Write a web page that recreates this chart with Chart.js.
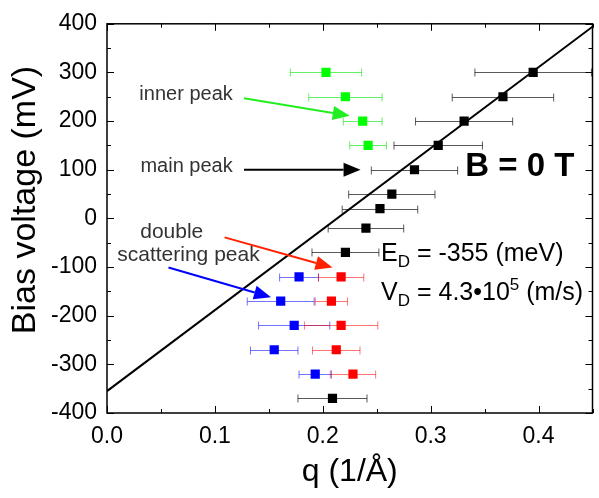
<!DOCTYPE html>
<html>
<head>
<meta charset="utf-8">
<script src="https://cdn.jsdelivr.net/npm/chart.js@4.4.1/dist/chart.umd.min.js"></script>
<style>
  html, body { margin: 0; padding: 0; background: #fff; }
  #wrap { width: 599px; height: 498px; position: relative; }
</style>
</head>
<body>
<div id="wrap"><canvas id="chart"></canvas></div>
<script>
// main peak (black)
const mainV = [300, 250, 200, 150, 100, 50, 20, -20, -70, -370];
const mainQ = [0.395, 0.367, 0.331, 0.307, 0.285, 0.264, 0.253, 0.240, 0.221, 0.209];
const mainErr = [0.054, 0.047, 0.045, 0.041, 0.040, 0.040, 0.035, 0.035, 0.031, 0.032];

// inner peak (green)
const innerV = [300, 250, 200, 150];
const innerQ = [0.203, 0.221, 0.237, 0.242];
const innerErr = [0.033, 0.034, 0.018, 0.017];

// double scattering peak (blue + red)
const doubleV = [-120, -170, -220, -270, -320];
const blueQ = [0.178, 0.161, 0.1735, 0.155, 0.193];
const blueErr = [0.018, 0.031, 0.033, 0.022, 0.015];
const redQ = [0.217, 0.208, 0.217, 0.2125, 0.228];
const redErr = [0.021, 0.015, 0.034, 0.022, 0.021];

// linear fit E = E_D + slope * q
const fitQ = [0, 0.45];
const fitV = [-355, 394];

const xTicks = [0.0, 0.1, 0.2, 0.3, 0.4];
const yTicks = [-400, -300, -200, -100, 0, 100, 200, 300, 400];

function pts(qs, vs) {
  return qs.map((q, i) => ({ x: q, y: vs[i] }));
}

const FONT = "'Liberation Sans', Arial, sans-serif";

// arrows and texts, positioned in data coordinates
const arrows = [
  { from: [0.127, 247], to: [0.225, 211], color: '#22ee22' },
  { from: [0.127, 100], to: [0.235, 100], color: '#000000' },
  { from: [0.109, -39], to: [0.209, -101], color: '#ff2200' },
  { from: [0.057, -101], to: [0.152, -162], color: '#0000ff' }
];
const notes = [
  { text: 'inner peak', q: 0.030, v: 244, size: 20, align: 'left' },
  { text: 'main peak', q: 0.031, v: 96, size: 20, align: 'left' },
  { text: 'double', q: 0.060, v: -40, size: 21, align: 'center' },
  { text: 'scattering peak', q: 0.0755, v: -87, size: 21, align: 'center' }
];

const frameAndExtras = {
  id: 'frameAndExtras',
  beforeDatasetsDraw(chart) {
    const ctx = chart.ctx;
    const xs = chart.scales.x, ys = chart.scales.y;
    const a = chart.chartArea;
    ctx.save();
    ctx.beginPath();
    ctx.rect(a.left, a.top, a.right - a.left, a.bottom - a.top);
    ctx.clip();
    // error bars
    chart.data.datasets.forEach((ds, di) => {
      if (!ds.xErr || !chart.isDatasetVisible(di)) return;
      ctx.strokeStyle = ds.errColor;
      ctx.lineWidth = 1;
      ds.data.forEach((p, i) => {
        const y = Math.round(ys.getPixelForValue(p.y)) + 0.5;
        const x1 = xs.getPixelForValue(p.x - ds.xErr[i]);
        const x2 = xs.getPixelForValue(p.x + ds.xErr[i]);
        ctx.beginPath();
        ctx.moveTo(x1, y); ctx.lineTo(x2, y);
        ctx.moveTo(x1, y - 4); ctx.lineTo(x1, y + 4);
        ctx.moveTo(x2, y - 4); ctx.lineTo(x2, y + 4);
        ctx.stroke();
      });
    });
    ctx.restore();
  },
  afterDatasetsDraw(chart) {
    const ctx = chart.ctx;
    const xs = chart.scales.x, ys = chart.scales.y;
    const a = chart.chartArea;
    ctx.save();
    // frame
    ctx.strokeStyle = '#000';
    ctx.lineWidth = 1.5;
    ctx.strokeRect(a.left, a.top, a.right - a.left, a.bottom - a.top);
    // inward ticks on all four sides
    ctx.lineWidth = 1;
    for (let q = 0; q <= 0.45 + 1e-9; q += 0.05) {
      const x = Math.round(xs.getPixelForValue(q)) + 0.5;
      const len = Math.abs(q * 10 - Math.round(q * 10)) < 1e-6 ? 7 : 4;
      ctx.beginPath();
      ctx.moveTo(x, a.bottom); ctx.lineTo(x, a.bottom - len);
      ctx.moveTo(x, a.top); ctx.lineTo(x, a.top + len);
      ctx.stroke();
    }
    for (let v = -400; v <= 400; v += 50) {
      const y = Math.round(ys.getPixelForValue(v)) + 0.5;
      const len = v % 100 === 0 ? 7 : 4;
      ctx.beginPath();
      ctx.moveTo(a.left, y); ctx.lineTo(a.left + len, y);
      ctx.moveTo(a.right, y); ctx.lineTo(a.right - len, y);
      ctx.stroke();
    }
    // arrows
    arrows.forEach(ar => {
      const x1 = xs.getPixelForValue(ar.from[0]), y1 = ys.getPixelForValue(ar.from[1]);
      const x2 = xs.getPixelForValue(ar.to[0]), y2 = ys.getPixelForValue(ar.to[1]);
      const ang = Math.atan2(y2 - y1, x2 - x1);
      const hl = 17, hw = 7;
      const bx = x2 - hl * Math.cos(ang), by = y2 - hl * Math.sin(ang);
      ctx.strokeStyle = ar.color;
      ctx.fillStyle = ar.color;
      ctx.lineWidth = 2;
      ctx.beginPath();
      ctx.moveTo(x1, y1); ctx.lineTo(bx, by);
      ctx.stroke();
      ctx.beginPath();
      ctx.moveTo(x2, y2);
      ctx.lineTo(bx + hw * Math.sin(ang), by - hw * Math.cos(ang));
      ctx.lineTo(bx - hw * Math.sin(ang), by + hw * Math.cos(ang));
      ctx.closePath();
      ctx.fill();
    });
    // labels
    ctx.fillStyle = '#333';
    ctx.textBaseline = 'alphabetic';
    notes.forEach(n => {
      ctx.font = n.size + 'px ' + FONT;
      ctx.textAlign = n.align;
      ctx.fillText(n.text, xs.getPixelForValue(n.q), ys.getPixelForValue(n.v));
    });
    ctx.fillStyle = '#000';
    ctx.textAlign = 'left';
    ctx.font = 'bold 33px ' + FONT;
    ctx.fillText('B = 0 T', xs.getPixelForValue(0.332), ys.getPixelForValue(88));

    // E_D and V_D with sub/superscripts
    function rich(parts, x, y) {
      parts.forEach(p => {
        ctx.font = p.size + 'px ' + FONT;
        ctx.fillText(p.t, x, y + (p.dy || 0));
        x += ctx.measureText(p.t).width;
      });
    }
    const ex = xs.getPixelForValue(0.254);
    rich([{ t: 'E', size: 25 }, { t: 'D', size: 17, dy: 6 }, { t: ' = -355 (meV)', size: 25 }],
      ex, ys.getPixelForValue(-87));
    rich([{ t: 'V', size: 25 }, { t: 'D', size: 17, dy: 6 }, { t: ' = 4.3\u202210', size: 25 },
      { t: '5', size: 17, dy: -10 }, { t: ' (m/s)', size: 25 }],
      ex, ys.getPixelForValue(-168));

    // y title, drawn rotated
    ctx.save();
    ctx.translate(26, 200);
    ctx.rotate(-Math.PI / 2);
    ctx.textAlign = 'center';
    ctx.textBaseline = 'middle';
    ctx.font = '34px ' + FONT;
    ctx.fillText('Bias voltage (mV)', 0, 0);
    ctx.restore();
    ctx.restore();
  }
};

new Chart(document.getElementById('chart'), {
  type: 'scatter',
  data: {
    datasets: [
      {
        label: 'fit',
        data: pts(fitQ, fitV),
        showLine: true,
        borderColor: '#000',
        borderWidth: 2,
        pointRadius: 0
      },
      {
        label: 'main peak',
        data: pts(mainQ, mainV),
        xErr: mainErr,
        errColor: 'rgba(0,0,0,0.65)',
        backgroundColor: '#000',
        borderColor: '#000',
        pointStyle: 'rect',
        pointRadius: 6.5,
        borderWidth: 0
      },
      {
        label: 'inner peak',
        data: pts(innerQ, innerV),
        xErr: innerErr,
        errColor: 'rgba(0,230,0,0.6)',
        backgroundColor: '#00ff00',
        borderColor: '#00ff00',
        pointStyle: 'rect',
        pointRadius: 6.5,
        borderWidth: 0
      },
      {
        label: 'double blue',
        data: pts(blueQ, doubleV),
        xErr: blueErr,
        errColor: 'rgba(0,0,255,0.55)',
        backgroundColor: '#0000ff',
        borderColor: '#0000ff',
        pointStyle: 'rect',
        pointRadius: 6.5,
        borderWidth: 0
      },
      {
        label: 'double red',
        data: pts(redQ, doubleV),
        xErr: redErr,
        errColor: 'rgba(255,0,0,0.55)',
        backgroundColor: '#ff0000',
        borderColor: '#ff0000',
        pointStyle: 'rect',
        pointRadius: 6.5,
        borderWidth: 0
      }
    ]
  },
  options: {
    responsive: true,
    maintainAspectRatio: false,
    animation: false,
    layout: { padding: { top: 18, right: 0, left: 0, bottom: 0 } },
    plugins: {
      legend: { display: false },
      tooltip: { enabled: false }
    },
    scales: {
      x: {
        type: 'linear',
        min: 0,
        max: 0.45,
        afterBuildTicks: s => { s.ticks = xTicks.map(v => ({ value: v })); },
        afterFit: s => { s.height = 85; },
        grid: { display: false, drawTicks: false },
        border: { display: false },
        ticks: {
          color: '#000',
          padding: 10,
          font: { family: FONT, size: 23 },
          maxRotation: 0,
          callback: v => v.toFixed(1)
        },
        title: {
          display: true,
          text: 'q (1/Å)',
          color: '#000',
          font: { family: FONT, size: 32 },
          padding: { top: 2, bottom: 7 }
        }
      },
      y: {
        type: 'linear',
        min: -400,
        max: 400,
        afterBuildTicks: s => { s.ticks = yTicks.map(v => ({ value: v })); },
        afterFit: s => { s.width = 107; },
        grid: { display: false, drawTicks: false },
        border: { display: false },
        ticks: {
          color: '#000',
          padding: 10,
          font: { family: FONT, size: 23 }
        }
      }
    }
  },
  plugins: [frameAndExtras]
});
</script>
</body>
</html>
